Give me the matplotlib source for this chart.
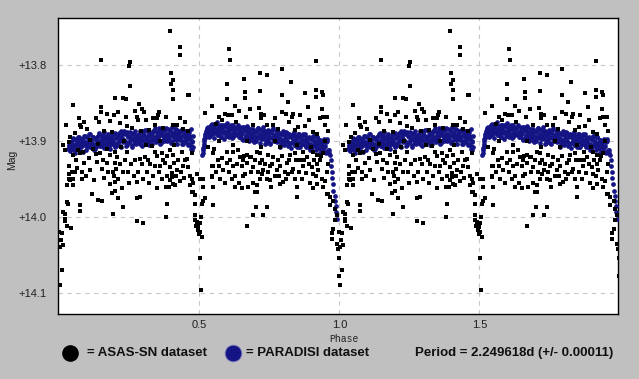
import matplotlib
matplotlib.use("Agg")
import matplotlib.pyplot as plt
from matplotlib.lines import Line2D
import numpy as np

# ASAS-SN points (phase, mag) for one cycle
asas = [
(0.396,13.755),(0.431,13.776),(0.431,13.786),(0.149,13.793),(0.252,13.796),(0.249,13.801),(0.252,13.827),(0.399,13.810),
(0.406,13.820),(0.399,13.825),(0.406,13.832),(0.406,13.845),(0.458,13.839),(0.462,13.839),(0.200,13.843),(0.228,13.843),
(0.238,13.844),(0.048,13.852),(0.148,13.855),(0.148,13.861),(0.169,13.864),(0.197,13.866),(0.285,13.851),(0.294,13.857),
(0.302,13.862),(0.238,13.868),(0.276,13.868),(0.280,13.872),(0.355,13.862),(0.351,13.866),(0.348,13.869),(0.024,13.879),
(0.075,13.878),(0.079,13.881),(0.143,13.875),(0.217,13.876),(0.241,13.880),(0.336,13.870),(0.407,13.879),
(0.100,13.884),(0.160,13.886),(0.260,13.883),(0.320,13.885),(0.370,13.882),(0.440,13.884),(0.055,13.889),(0.190,13.888),
(0.290,13.887),(0.420,13.879),(0.460,13.887),
(0.033,13.901),(0.012,13.905),(0.020,13.912),(0.068,13.912),(0.086,13.914),(0.145,13.916),(0.181,13.918),(0.199,13.914),
(0.241,13.914),(0.288,13.923),(0.306,13.921),(0.342,13.914),(0.366,13.916),(0.395,13.912),(0.407,13.918),(0.437,13.914),
(0.455,13.923),(0.473,13.916),(0.120,13.910),(0.220,13.908),(0.330,13.906),(0.140,13.904),
(0.033,13.932),(0.050,13.918),(0.074,13.916),(0.033,13.943),(0.044,13.940),(0.056,13.940),(0.080,13.940),(0.033,13.950),
(0.038,13.951),(0.050,13.950),(0.080,13.949),(0.026,13.958),(0.048,13.958),(0.026,13.980),(0.030,13.982),(0.074,13.984),
(0.074,13.992),(0.014,13.993),(0.020,13.995),(0.020,14.002),(0.020,14.005),(0.026,14.011),(0.041,14.014),(0.000,14.019),
(0.008,14.021),(0.006,14.030),(0.014,14.036),(0.001,14.039),(0.011,14.069),(0.001,14.089),
(0.133,13.927),(0.151,13.936),(0.171,13.929),(0.199,13.929),(0.203,13.936),(0.193,13.940),(0.195,13.945),(0.229,13.940),
(0.246,13.940),(0.199,13.954),(0.276,13.954),(0.116,13.969),(0.139,13.977),(0.151,13.979),(0.187,13.968),(0.199,13.965),
(0.211,13.975),(0.229,13.986),(0.193,13.995),(0.276,13.975),(0.288,13.973),(0.276,14.005),(0.298,14.007),
(0.312,13.940),(0.342,13.932),(0.348,13.961),(0.360,13.932),(0.378,13.929),(0.384,13.945),(0.395,13.934),(0.401,13.942),
(0.401,13.947),(0.413,13.958),(0.419,13.938),(0.443,13.932),(0.461,13.934),(0.384,13.982),(0.381,14.000),(0.381,13.960),
(0.395,13.951),(0.407,13.956),
(0.473,13.967),(0.479,13.967),(0.485,13.971),(0.485,13.982),(0.485,13.997),(0.485,14.004),(0.488,14.011),(0.490,13.943),
(0.503,13.949),(0.497,14.013),(0.503,14.008),(0.503,14.019),(0.508,14.026),(0.492,14.006),(0.495,14.017),(0.499,14.022),
(0.503,14.053),(0.506,14.096),(0.508,13.982),(0.514,13.978),(0.520,13.975),(0.514,13.960),(0.514,13.949),(0.546,13.932),
(0.544,13.947),(0.550,13.960),(0.550,13.984),(0.475,13.949),(0.478,13.955),(0.505,14.000),
(0.550,13.932),(0.544,13.945),(0.571,13.932),(0.598,13.929),(0.621,13.932),(0.627,13.945),(0.645,13.921),(0.651,13.932),
(0.657,13.925),(0.663,13.943),(0.669,13.929),(0.675,13.960),(0.681,13.921),(0.693,13.934),(0.699,13.967),(0.711,13.940),
(0.717,13.929),(0.723,13.943),(0.729,13.938),(0.741,13.949),(0.752,13.932),(0.752,13.951),(0.764,13.921),(0.776,13.938),
(0.788,13.932),(0.812,13.929),(0.818,13.943),(0.836,13.936),(0.860,13.925),(0.871,13.932),(0.884,13.921),(0.901,13.934),
(0.907,13.943),(0.925,13.938),(0.931,13.925),(0.937,13.949),(0.943,13.960),(0.955,13.940),(0.961,13.969),
(0.627,13.960),(0.651,13.962),(0.705,13.958),(0.705,13.967),(0.703,13.986),(0.741,13.986),(0.729,13.997),(0.669,14.012),
(0.693,13.997),(0.800,13.954),(0.788,13.956),(0.842,13.949),(0.848,13.960),(0.848,13.973),(0.907,13.962),(0.919,13.956),
(0.943,13.960),(0.955,13.969),(0.967,13.973),(0.979,13.978),(0.967,13.984),(0.985,13.989),(0.991,13.997),(0.985,14.004),
(0.979,14.015),(0.973,14.021),(0.973,14.028),(0.991,14.035),(0.996,14.041),(0.997,14.054),(0.998,14.077),
(0.607,13.779),(0.610,13.793),(0.917,13.794),(0.717,13.810),(0.743,13.813),(0.795,13.805),(0.660,13.818),(0.600,13.825),
(0.827,13.822),(0.663,13.835),(0.663,13.843),(0.717,13.834),(0.600,13.845),(0.627,13.853),(0.545,13.854),(0.521,13.863),
(0.570,13.868),(0.592,13.864),(0.604,13.866),(0.616,13.866),(0.667,13.868),(0.714,13.856),(0.720,13.864),(0.720,13.870),
(0.741,13.878),(0.764,13.878),(0.794,13.839),(0.794,13.861),(0.810,13.864),(0.816,13.848),(0.836,13.864),(0.830,13.868),
(0.854,13.881),(0.877,13.880),(0.877,13.837),(0.889,13.855),(0.917,13.833),(0.917,13.842),(0.937,13.835),(0.943,13.839),
(0.937,13.857),(0.931,13.870),(0.943,13.868),(0.955,13.868),(0.907,13.888),(0.919,13.890),
(0.554,13.910),(0.598,13.914),(0.621,13.914),(0.639,13.912),(0.669,13.918),(0.683,13.921),(0.532,13.907),(0.550,13.916),
(0.705,13.914),(0.717,13.916),(0.746,13.918),(0.764,13.921),(0.788,13.907),(0.824,13.918),(0.842,13.916),(0.872,13.914),
(0.907,13.914),(0.919,13.918),(0.943,13.916),(0.560,13.877),(0.630,13.875),(0.690,13.879),(0.780,13.884),(0.840,13.885),
(0.960,13.886),
(0.060,13.925),(0.065,13.935),(0.090,13.928),(0.095,13.945),(0.105,13.922),(0.110,13.938),(0.125,13.951),(0.130,13.917),
(0.155,13.925),(0.160,13.948),(0.175,13.940),(0.180,13.956),(0.205,13.921),(0.210,13.950),(0.215,13.930),(0.225,13.962),
(0.235,13.925),(0.250,13.955),(0.255,13.930),(0.265,13.945),(0.270,13.925),(0.280,13.940),(0.295,13.930),(0.300,13.950),
(0.315,13.925),(0.320,13.955),(0.325,13.930),(0.335,13.945),(0.350,13.920),(0.355,13.940),(0.365,13.950),(0.370,13.925),
(0.385,13.920),(0.390,13.960),(0.410,13.928),(0.415,13.945),(0.425,13.925),(0.430,13.952),(0.435,13.940),(0.445,13.948),
(0.450,13.925),(0.465,13.945),(0.468,13.958),
(0.560,13.940),(0.565,13.925),(0.575,13.950),(0.580,13.922),(0.585,13.938),(0.590,13.955),(0.605,13.940),(0.610,13.925),
(0.615,13.950),(0.635,13.930),(0.640,13.955),(0.655,13.945),(0.660,13.920),(0.685,13.940),(0.690,13.955),(0.700,13.925),
(0.715,13.950),(0.725,13.925),(0.735,13.930),(0.745,13.940),(0.755,13.960),(0.760,13.930),(0.770,13.945),(0.780,13.925),
(0.785,13.945),(0.795,13.920),(0.805,13.940),(0.810,13.950),(0.820,13.925),(0.830,13.940),(0.845,13.925),(0.855,13.940),
(0.865,13.950),(0.875,13.925),(0.880,13.942),(0.890,13.930),(0.895,13.955),(0.910,13.925),(0.915,13.945),(0.920,13.930),
(0.935,13.920),(0.950,13.952),(0.958,13.930),
(0.070,13.870),(0.090,13.875),(0.130,13.870),(0.180,13.874),(0.210,13.862),(0.270,13.860),(0.310,13.872),(0.340,13.878),
(0.380,13.868),(0.430,13.870),(0.450,13.875),(0.580,13.872),(0.640,13.860),(0.680,13.858),(0.730,13.866),(0.770,13.870),
(0.820,13.875),(0.860,13.865),(0.890,13.872),(0.950,13.878),
(0.040,13.895),(0.110,13.898),(0.170,13.910),(0.230,13.900),(0.310,13.905),(0.360,13.900),(0.410,13.905),(0.570,13.900),
(0.620,13.905),(0.670,13.900),(0.720,13.908),(0.770,13.900),(0.850,13.905),(0.900,13.908),(0.950,13.900),
]
asas_phase = [p for p, m in asas]
asas_mag = [m for p, m in asas]

# PARADISI points for one cycle
par_phase = [
0.030,0.033,0.036,0.040,0.043,0.047,0.050,0.054,0.057,0.061,0.064,0.068,0.071,0.075,0.078,0.082,
0.086,0.089,0.093,0.096,0.100,0.103,0.107,0.110,0.114,0.117,0.121,0.124,0.128,0.131,
0.135,0.138,0.142,0.145,0.149,0.152,0.156,0.159,0.163,0.166,0.170,0.173,0.177,0.180,
0.184,0.187,0.191,0.194,0.198,0.201,0.205,0.208,0.212,0.215,0.219,0.222,0.226,0.229,
0.233,0.236,0.240,0.243,0.247,0.250,0.254,0.257,0.261,0.264,0.268,0.271,0.275,0.278,
0.282,0.285,0.289,0.292,0.296,0.299,0.303,0.306,0.310,0.313,0.317,0.320,0.324,0.327,
0.331,0.334,0.338,0.341,0.345,0.348,0.352,0.355,0.359,0.362,0.366,0.369,0.373,0.376,
0.380,0.383,0.387,0.390,0.394,0.397,0.401,0.404,0.408,0.411,0.415,0.418,0.422,0.425,
0.429,0.432,0.436,0.439,0.443,0.446,0.450,0.453,0.457,0.460,0.464,0.467,0.471,0.474,
0.038,0.0415,0.045,0.0485,0.052,0.0555,0.059,0.0625,0.066,0.0695,0.073,0.0765,0.080,0.0835,
0.0875,0.091,0.0945,0.098,0.1015,0.105,0.1085,0.112,0.1155,0.119,0.1225,0.126,0.1295,0.133,
0.1365,0.140,0.1435,0.147,0.1505,0.154,0.1575,0.161,0.1645,0.168,0.1715,0.175,0.1785,0.182,
0.1855,0.189,0.1925,0.196,0.1995,0.203,0.2065,0.210,0.2135,0.217,0.2205,0.224,0.2275,0.231,
0.2345,0.238,0.2415,0.245,0.2485,0.252,0.2555,0.259,0.2625,0.266,0.2695,0.273,0.2765,0.280,
0.2835,0.287,0.2905,0.294,0.2975,0.301,0.3045,0.308,0.3115,0.315,0.3185,0.322,0.3255,0.329,
0.3325,0.336,0.3395,0.343,0.3465,0.350,0.3535,0.357,0.3605,0.364,0.3675,0.371,0.3745,0.378,
0.3815,0.385,0.3885,0.392,0.3955,0.399,0.4025,0.406,0.4095,0.413,0.4165,0.420,0.4235,0.427,
0.4305,0.434,0.4375,0.441,0.4445,0.448,0.4515,0.455,0.4585,0.462,0.4655,0.469,0.4725,0.476,
0.470,0.473,0.476,
0.511,0.512,0.513,0.514,0.515,0.516,0.517,0.518,0.519,0.520,0.521,0.523,0.524,0.526,0.527,0.529,0.530,
0.532,0.535,0.539,0.542,0.546,0.549,0.553,0.556,0.560,0.563,0.567,0.570,0.574,0.577,
0.581,0.584,0.588,0.591,0.595,0.598,0.602,0.605,0.609,0.612,0.616,0.619,0.623,0.626,
0.630,0.633,0.637,0.640,0.644,0.647,0.651,0.654,0.658,0.661,0.665,0.668,0.672,0.675,
0.679,0.682,0.686,0.689,0.693,0.696,0.700,0.703,0.707,0.710,0.714,0.717,0.721,0.724,
0.728,0.731,0.735,0.738,0.742,0.745,0.749,0.752,0.756,0.759,0.763,0.766,0.770,0.773,
0.777,0.780,0.784,0.787,0.791,0.794,0.798,0.801,0.805,0.808,0.812,0.815,0.819,0.822,
0.826,0.829,0.833,0.836,0.840,0.843,0.847,0.850,0.854,0.857,0.861,0.864,0.868,0.871,
0.875,0.878,0.882,0.885,0.889,0.892,0.896,0.899,0.903,0.906,0.910,0.913,0.917,0.920,
0.924,0.927,0.931,0.934,0.938,0.941,0.945,0.948,0.952,0.955,0.959,0.962,
0.5335,0.537,0.5405,0.544,0.5475,0.551,0.5545,0.558,0.5615,0.565,0.5685,0.572,0.5755,0.579,
0.5825,0.586,0.5895,0.593,0.5965,0.600,0.6035,0.607,0.6105,0.614,0.6175,0.621,0.6245,0.628,
0.6315,0.635,0.6385,0.642,0.6455,0.649,0.6525,0.656,0.6595,0.663,0.6665,0.670,0.6735,0.677,
0.6805,0.684,0.6875,0.691,0.6945,0.698,0.7015,0.705,0.7085,0.712,0.7155,0.719,0.7225,0.726,
0.7295,0.733,0.7365,0.740,0.7435,0.747,0.7505,0.754,0.7575,0.761,0.7645,0.768,0.7715,0.775,
0.7785,0.782,0.7855,0.789,0.7925,0.796,0.7995,0.803,0.8065,0.810,0.8135,0.817,0.8205,0.824,
0.8275,0.831,0.8345,0.838,0.8415,0.845,0.8485,0.852,0.8555,0.859,0.8625,0.866,0.8695,0.873,
0.8765,0.880,0.8835,0.887,0.8905,0.894,0.8975,0.901,0.9045,0.908,0.9115,0.915,0.9185,0.922,
0.9255,0.929,0.9325,0.936,0.9395,0.943,0.9465,0.950,0.9535,0.957,
0.963,0.966,0.969,0.971,0.973,0.975,0.977,0.979,0.983,0.985,0.987,0.989,0.991,
]
par_mag = [
13.910,13.905,13.906,13.902,13.909,13.899,13.905,13.911,13.897,13.903,13.908,13.900,13.894,13.906,13.902,13.897,
13.898,13.905,13.893,13.901,13.908,13.896,13.902,13.890,13.899,13.906,13.895,13.903,13.909,13.897,
13.894,13.902,13.890,13.899,13.906,13.895,13.901,13.888,13.897,13.904,13.893,13.900,13.907,13.896,
13.900,13.892,13.898,13.905,13.889,13.896,13.902,13.893,13.899,13.906,13.887,13.895,13.901,13.897,
13.891,13.899,13.904,13.888,13.895,13.901,13.893,13.897,13.905,13.889,13.896,13.902,13.892,13.898,
13.897,13.890,13.903,13.894,13.887,13.899,13.892,13.904,13.896,13.885,13.893,13.900,13.889,13.897,
13.891,13.898,13.886,13.894,13.901,13.888,13.895,13.883,13.892,13.899,13.887,13.893,13.900,13.885,
13.890,13.897,13.884,13.893,13.899,13.886,13.892,13.881,13.895,13.889,13.898,13.884,13.891,13.896,
13.889,13.896,13.885,13.893,13.899,13.887,13.894,13.901,13.890,13.897,13.903,13.893,13.906,13.900,
13.913,13.901,13.909,13.896,13.905,13.915,13.898,13.907,13.894,13.911,13.903,13.908,13.897,13.914,
13.893,13.902,13.912,13.895,13.904,13.891,13.908,13.900,13.905,13.894,13.911,13.910,13.898,13.906,
13.893,13.902,13.889,13.906,13.898,13.903,13.892,13.909,13.908,13.896,13.904,13.891,13.900,13.910,
13.904,13.896,13.901,13.890,13.907,13.906,13.894,13.902,13.889,13.898,13.908,13.891,13.900,13.887,
13.889,13.906,13.905,13.893,13.901,13.888,13.897,13.907,13.890,13.899,13.886,13.903,13.895,13.900,
13.900,13.887,13.896,13.906,13.889,13.898,13.885,13.902,13.894,13.899,13.888,13.905,13.904,13.892,
13.904,13.887,13.896,13.883,13.900,13.892,13.897,13.886,13.903,13.902,13.890,13.898,13.885,13.894,
13.882,13.899,13.891,13.896,13.885,13.902,13.901,13.889,13.897,13.884,13.893,13.903,13.886,13.895,
13.898,13.887,13.904,13.903,13.891,13.899,13.886,13.895,13.905,13.888,13.897,13.884,13.901,13.893,
13.910,13.912,13.908,
13.918,13.915,13.912,13.909,13.906,13.903,13.900,13.897,13.896,13.893,13.890,13.889,13.886,13.887,13.882,13.884,13.889,
13.881,13.888,13.893,13.879,13.886,13.891,13.883,13.877,13.889,13.884,13.892,13.880,13.887,13.894,
13.882,13.889,13.878,13.886,13.893,13.881,13.887,13.895,13.880,13.884,13.891,13.878,13.886,13.892,
13.884,13.891,13.880,13.888,13.895,13.883,13.889,13.897,13.885,13.881,13.892,13.886,13.894,13.882,
13.888,13.895,13.884,13.891,13.898,13.886,13.893,13.900,13.887,13.883,13.894,13.890,13.897,13.885,
13.890,13.897,13.886,13.893,13.900,13.888,13.895,13.902,13.889,13.885,13.896,13.892,13.899,13.887,
13.893,13.900,13.889,13.896,13.903,13.891,13.898,13.905,13.892,13.888,13.899,13.895,13.902,13.890,
13.895,13.902,13.891,13.898,13.905,13.893,13.900,13.907,13.894,13.890,13.901,13.897,13.904,13.892,
13.898,13.905,13.894,13.901,13.908,13.896,13.903,13.910,13.897,13.893,13.904,13.900,13.907,13.895,
13.902,13.909,13.898,13.905,13.912,13.900,13.907,13.914,13.901,13.897,13.911,13.915,
13.894,13.882,13.890,13.877,13.886,13.896,13.879,13.888,13.875,13.892,13.884,13.889,13.878,13.895,
13.878,13.887,13.897,13.880,13.889,13.876,13.893,13.885,13.890,13.879,13.896,13.895,13.883,13.891,
13.882,13.891,13.878,13.895,13.887,13.892,13.881,13.898,13.897,13.885,13.893,13.880,13.889,13.899,
13.898,13.890,13.895,13.884,13.901,13.900,13.888,13.896,13.883,13.892,13.902,13.885,13.894,13.881,
13.886,13.903,13.902,13.890,13.898,13.885,13.894,13.904,13.887,13.896,13.883,13.900,13.892,13.897,
13.901,13.888,13.897,13.907,13.890,13.899,13.886,13.903,13.895,13.900,13.889,13.906,13.905,13.893,
13.909,13.892,13.901,13.888,13.905,13.897,13.902,13.891,13.908,13.907,13.895,13.903,13.890,13.899,
13.891,13.908,13.900,13.905,13.894,13.911,13.910,13.898,13.906,13.893,13.902,13.912,13.895,13.904,
13.909,13.898,13.915,13.914,13.902,13.910,13.897,13.906,13.916,13.899,
13.912,13.918,13.925,13.932,13.940,13.948,13.956,13.965,13.972,13.978,13.985,13.993,14.002,
]

x_ticks = [0.5, 1.0, 1.5]
y_ticks = [13.8, 13.9, 14.0, 14.1]
y_labels = ["+13.8", "+13.9", "+14.0", "+14.1"]

BG = "#c0c0c0"
BLUE = "#141484"

fig = plt.figure(figsize=(6.39, 3.79), dpi=100, facecolor=BG)
ax = fig.add_axes([58/639, 1-314/379, 560/639, 296/379])
ax.set_facecolor("white")

ap = np.array(asas_phase); am = np.array(asas_mag)
pp = np.array(par_phase); pm = np.array(par_mag)
for off in (0.0, 1.0):
    ax.plot(pp + off, pm, ls="none", marker="o", ms=3.4, color=BLUE, mew=0, zorder=3)
for off in (0.0, 1.0):
    ax.plot(ap + off, am, ls="none", marker="s", ms=2.6, color="black", mew=0, zorder=4)

ax.set_xlim(-0.0046, 1.995)
ax.set_ylim(14.127, 13.738)
ax.set_xticks(x_ticks)
ax.set_xticklabels([f"{t:.1f}" for t in x_ticks])
ax.set_yticks(y_ticks)
ax.set_yticklabels(y_labels)
ax.tick_params(length=0, labelsize=8, colors="#202020")
ax.tick_params(axis="y", pad=8)
ax.tick_params(axis="x", pad=4)
for lab in ax.get_xticklabels() + ax.get_yticklabels():
    lab.set_family(["Liberation Sans", "DejaVu Sans"])
ax.grid(True, ls=(0, (4, 4)), color="#c8c8c8", lw=0.8)
ax.set_axisbelow(True)
for s in ax.spines.values():
    s.set_color("black"); s.set_linewidth(1.0)

fig.text(12/639, 1-160/379, "Mag", rotation=90, ha="center", va="center",
         fontsize=7.5, family=["Liberation Sans", "DejaVu Sans"], color="#202020")
fig.text(344/639, 1-339/379, "Phase", ha="center", va="center",
         fontsize=7, family=["Liberation Mono", "DejaVu Sans Mono"], color="#202020")

ly = 1-353/379
fig.add_artist(Line2D([70/639], [ly], marker="o", ms=12, color="black", mew=0, transform=fig.transFigure))
fig.add_artist(Line2D([233/639], [ly], marker="o", ms=12, color=BLUE, mec="#8080c0", mew=0.6, transform=fig.transFigure))
tf = dict(fontsize=9.5, fontweight="bold", va="center", family=["Liberation Sans Narrow", "Liberation Sans", "DejaVu Sans"], color="#101010")
fig.text(87/639, ly, "= ASAS-SN dataset", ha="left", **tf)
fig.text(246/639, ly, "= PARADISI dataset", ha="left", **tf)
fig.text(415/639, ly, "Period = 2.249618d (+/- 0.00011)", ha="left", **tf)

fig.savefig("out.png", dpi=100, facecolor=BG)
